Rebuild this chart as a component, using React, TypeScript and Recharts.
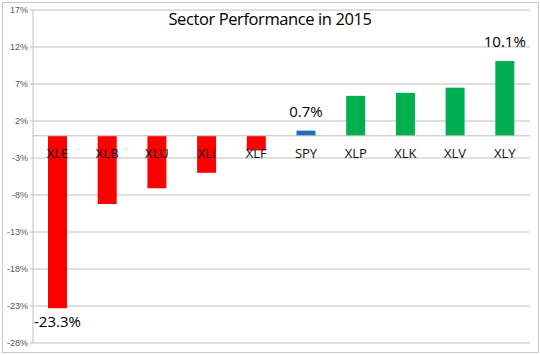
import { BarChart, Bar, XAxis, YAxis, CartesianGrid, ReferenceLine, LabelList, Cell } from 'recharts';

const sectors = ['XLE', 'XLB', 'XLU', 'XLI', 'XLF', 'SPY', 'XLP', 'XLK', 'XLV', 'XLY'];
const returns = [-23.3, -9.2, -7.1, -5.0, -2.0, 0.7, 5.4, 5.8, 6.5, 10.1];
const shownLabels = ['-23.3%', '', '', '', '', '0.7%', '', '', '', '10.1%'];
const yTicks = [-28, -23, -18, -13, -8, -3, 2, 7, 12, 17];

const RED = '#ff0000';
const BLUE = '#1f6fc0';
const GREEN = '#00b050';

const data = sectors.map((s, i) => ({ sector: s, value: returns[i], shown: shownLabels[i] }));

const barColor = (v: number, name: string) => (name === 'SPY' ? BLUE : v < 0 ? RED : GREEN);

// category names sit just under the zero line, like Excel's "axis crosses at 0"
const CategoryName = (props: any) => {
    const { x, y, width, height, value, index } = props;
    const v = returns[index];
    const base = v >= 0 ? Math.max(y, y + height) : Math.min(y, y + height);
    return (
        <text x={x + width / 2} y={base + 19} textAnchor="middle" dominantBaseline="middle"
            fontSize={13} fill="#111" fontFamily="Open Sans">
            {value}
        </text>
    );
};

const ValueLabel = (props: any) => {
    const { x, y, width, height, value, index } = props;
    if (!value) return null;
    const v = returns[index];
    const top = Math.min(y, y + height);
    const bottom = Math.max(y, y + height);
    const ty = v >= 0 ? top - 18 : bottom + 15;
    return (
        <text x={x + width / 2} y={ty} textAnchor="middle" dominantBaseline="middle"
            fontSize={15} fill="#000" fontFamily="Open Sans">
            {value}
        </text>
    );
};

export default function App() {
    return (
        <div style={{ position: 'absolute', left: 0, top: 0, width: 540, height: 355, background: '#fff' }}>
            <div style={{ position: 'absolute', left: 2, top: 2, width: 535, height: 349, border: '1px solid #c8c8c8' }} />
            <div style={{
                position: 'absolute', left: 0, top: 7, width: 540, textAlign: 'center',
                fontFamily: 'Open Sans', fontSize: 16.5, letterSpacing: -0.4, color: '#000'
            }}>
                Sector Performance in 2015
            </div>
            <BarChart width={540} height={355} data={data} margin={{ top: 10, right: 10, left: 0, bottom: 12 }}
                style={{ position: 'absolute', left: 0, top: 0 }}>
                <CartesianGrid vertical={false} stroke="#bfbfbf" />
                <XAxis dataKey="sector" hide />
                <YAxis
                    domain={[-28, 17]}
                    ticks={yTicks}
                    interval={0}
                    width={33}
                    tickFormatter={(v) => `${v}%`}
                    tick={{ fill: '#595959', fontSize: 9, fontFamily: 'Liberation Sans' }}
                    tickSize={3}
                    tickMargin={2}
                    axisLine={{ stroke: '#bfbfbf' }}
                    tickLine={{ stroke: '#bfbfbf' }}
                />
                <ReferenceLine y={0} stroke="#bfbfbf" />
                <Bar dataKey="value" barSize={19} isAnimationActive={false}>
                    {data.map((d) => (
                        <Cell key={d.sector} fill={barColor(d.value, d.sector)} />
                    ))}
                    <LabelList dataKey="sector" content={CategoryName} />
                    <LabelList dataKey="shown" content={ValueLabel} />
                </Bar>
            </BarChart>
        </div>
    );
}
